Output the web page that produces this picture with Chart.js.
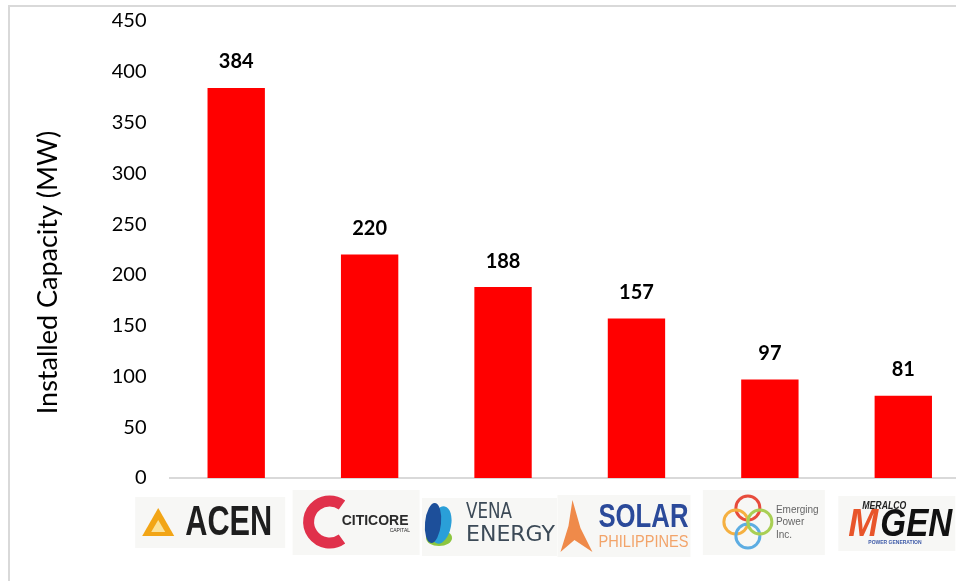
<!DOCTYPE html>
<html>
<head>
<meta charset="utf-8">
<script src="https://cdn.jsdelivr.net/npm/chart.js@4.4.1/dist/chart.umd.min.js"></script>
<style>
  html, body { margin: 0; padding: 0; background: #fff; overflow: hidden; }
  #box {
    position: absolute; left: 8px; top: 5px;
    width: 1000px; height: 620px;
    border: 2px solid #d9d9d9; background: #fff;
  }
  #wrap { position: absolute; left: 0; top: -13px; width: 975px; height: 589px; }
</style>
</head>
<body>
<div id="box"><div id="wrap"><canvas id="myChart"></canvas></div></div>
<script>
let companies = ["ACEN", "Citicore", "Vena Energy", "Solar Philippines", "Emerging Power Inc.", "Meralco MGEN"];
let capacityMW = [384, 220, 188, 157, 97, 81];
let yTicks = [0, 50, 100, 150, 200, 250, 300, 350, 400, 450];
let yTitle = "Installed Capacity (MW)";

const FONT = "Lato, 'Open Sans', sans-serif";

// bold numbers above each bar
const valueLabels = {
  id: "valueLabels",
  afterDatasetsDraw(chart) {
    let ctx = chart.ctx;
    let meta = chart.getDatasetMeta(0);
    ctx.save();
    ctx.font = "bold 20px " + FONT;
    ctx.fillStyle = "#000";
    ctx.textAlign = "center";
    ctx.textBaseline = "middle";
    meta.data.forEach((bar, i) => {
      ctx.fillText(capacityMW[i], bar.x, bar.y - 26);
    });
    ctx.restore();
  },
};

// axis title drawn by hand so it sits where the original does
const axisTitle = {
  id: "axisTitle",
  afterDraw(chart) {
    let ctx = chart.ctx;
    let area = chart.chartArea;
    ctx.save();
    ctx.translate(area.left - 121, (area.top + area.bottom) / 2 + 23);
    ctx.rotate(-Math.PI / 2);
    ctx.font = "27px " + FONT;
    ctx.fillStyle = "#000";
    ctx.textAlign = "center";
    ctx.textBaseline = "middle";
    ctx.fillText(yTitle, 0, 0);
    ctx.restore();
  },
};

function logoBox(ctx, cx, base, l, t, r, b) {
  ctx.fillStyle = "#f7f7f5";
  ctx.fillRect(cx + l, base + t, r - l, b - t);
}

function drawAcen(ctx, cx, base) {
  logoBox(ctx, cx, base, -101, 19, 49, 70);
  ctx.fillStyle = "#f2a516";
  ctx.beginPath();
  ctx.moveTo(cx - 78, base + 30);
  ctx.lineTo(cx - 62, base + 58);
  ctx.lineTo(cx - 94, base + 58);
  ctx.closePath();
  ctx.fill();
  ctx.fillStyle = "#fbe29a";
  ctx.beginPath();
  ctx.moveTo(cx - 78, base + 42);
  ctx.lineTo(cx - 71, base + 54);
  ctx.lineTo(cx - 85, base + 54);
  ctx.closePath();
  ctx.fill();
  ctx.fillStyle = "#1e1e1e";
  ctx.font = "bold 42px 'Liberation Sans', sans-serif";
  ctx.textAlign = "left";
  ctx.textBaseline = "middle";
  ctx.fillText("ACEN", cx - 51, base + 45, 87);
}

function drawCiticore(ctx, cx, base) {
  logoBox(ctx, cx, base, -77, 12, 50, 77);
  ctx.strokeStyle = "#e0314b";
  ctx.lineWidth = 11;
  ctx.beginPath();
  ctx.arc(cx - 40, base + 44, 21, 0.3 * Math.PI, 1.7 * Math.PI);
  ctx.stroke();
  ctx.fillStyle = "#2b2b2b";
  ctx.font = "bold 14px 'Liberation Sans', sans-serif";
  ctx.textAlign = "left";
  ctx.textBaseline = "middle";
  ctx.fillText("CITICORE", cx - 28, base + 43, 68);
  ctx.font = "5px 'Liberation Sans', sans-serif";
  ctx.fillText("CAPITAL", cx + 20, base + 53);
}

function drawVena(ctx, cx, base) {
  logoBox(ctx, cx, base, -81, 20, 54, 78);
  ctx.fillStyle = "#8cc63f";
  ctx.beginPath();
  ctx.ellipse(cx - 64, base + 60, 13, 8, 0, 0, 2 * Math.PI);
  ctx.fill();
  ctx.fillStyle = "#2a9fd8";
  ctx.beginPath();
  ctx.ellipse(cx - 62, base + 47, 10, 19, 0.2, 0, 2 * Math.PI);
  ctx.fill();
  ctx.fillStyle = "#1d4f9a";
  ctx.beginPath();
  ctx.ellipse(cx - 70, base + 45, 8, 20, 0.1, 0, 2 * Math.PI);
  ctx.fill();
  ctx.fillStyle = "#3c4a57";
  ctx.font = "22px 'DejaVu Sans', sans-serif";
  ctx.textAlign = "left";
  ctx.textBaseline = "middle";
  ctx.fillText("VENA", cx - 37, base + 34, 46);
  ctx.fillText("ENERGY", cx - 37, base + 57, 89);
}

function drawSolar(ctx, cx, base) {
  logoBox(ctx, cx, base, -79, 17, 54, 79);
  ctx.fillStyle = "#ef8a4a";
  ctx.beginPath();
  ctx.moveTo(cx - 64, base + 22);
  ctx.lineTo(cx - 56, base + 50);
  ctx.lineTo(cx - 44, base + 74);
  ctx.lineTo(cx - 62, base + 62);
  ctx.lineTo(cx - 76, base + 74);
  ctx.lineTo(cx - 68, base + 48);
  ctx.closePath();
  ctx.fill();
  ctx.fillStyle = "#2b4a9a";
  ctx.font = "bold 34px 'Liberation Sans', sans-serif";
  ctx.textAlign = "left";
  ctx.textBaseline = "middle";
  ctx.fillText("SOLAR", cx - 38, base + 40, 90);
  ctx.fillStyle = "#f2a46a";
  ctx.font = "17px 'Liberation Sans', sans-serif";
  ctx.fillText("PHILIPPINES", cx - 38, base + 64, 90);
}

function drawEmerging(ctx, cx, base) {
  logoBox(ctx, cx, base, -67, 12, 55, 77);
  let rings = [
    [-22, 30, "#e74c3c"],
    [-34, 44, "#f5b041"],
    [-22, 58, "#5dade2"],
    [-10, 44, "#a9cf54"],
  ];
  ctx.lineWidth = 3;
  rings.forEach((r) => {
    ctx.strokeStyle = r[2];
    ctx.beginPath();
    ctx.arc(cx + r[0], base + r[1], 12, 0, 2 * Math.PI);
    ctx.stroke();
  });
  ctx.fillStyle = "#666";
  ctx.font = "10px 'Liberation Sans', sans-serif";
  ctx.textAlign = "left";
  ctx.textBaseline = "middle";
  ctx.fillText("Emerging", cx + 6, base + 32);
  ctx.fillText("Power", cx + 6, base + 44);
  ctx.fillText("Inc.", cx + 6, base + 57);
}

function drawMgen(ctx, cx, base) {
  logoBox(ctx, cx, base, -65, 18, 52, 73);
  ctx.textAlign = "left";
  ctx.textBaseline = "middle";
  ctx.fillStyle = "#222";
  ctx.font = "italic bold 10px 'Liberation Sans', sans-serif";
  ctx.fillText("MERALCO", cx - 41, base + 28, 44);
  ctx.fillStyle = "#e8552a";
  ctx.font = "italic bold 38px 'Liberation Sans', sans-serif";
  ctx.fillText("M", cx - 55, base + 48, 30);
  ctx.fillStyle = "#111";
  ctx.fillText("GEN", cx - 23, base + 48, 72);
  ctx.fillStyle = "#3d5aa8";
  ctx.font = "bold 5px 'Liberation Sans', sans-serif";
  ctx.fillText("POWER GENERATION", cx - 35, base + 65, 70);
}

let logoPainters = [drawAcen, drawCiticore, drawVena, drawSolar, drawEmerging, drawMgen];

// company logos under the axis, placed through the x scale
const logoLabels = {
  id: "logoLabels",
  afterDraw(chart) {
    let ctx = chart.ctx;
    let xScale = chart.scales.x;
    let base = chart.chartArea.bottom;
    companies.forEach((c, i) => {
      ctx.save();
      logoPainters[i](ctx, xScale.getPixelForValue(i), base);
      ctx.restore();
    });
  },
};

function loadChart() {
  const ctx = document.getElementById("myChart");

  new Chart(ctx, {
    type: "bar",
    data: {
      labels: companies,
      datasets: [
        {
          data: capacityMW,
          backgroundColor: "#ff0000",
          borderWidth: 0,
          categoryPercentage: 1,
          barPercentage: 0.43,
        },
      ],
    },
    options: {
      responsive: true,
      maintainAspectRatio: false,
      animation: false,
      layout: {
        padding: { top: 0, right: 15, left: 0, bottom: 0 },
      },
      scales: {
        x: {
          grid: { display: false },
          border: { color: "#d9d9d9", width: 2 },
          ticks: { display: false },
          afterFit(scale) {
            scale.height = 105;
          },
        },
        y: {
          min: 0,
          max: 450,
          afterBuildTicks(scale) {
            scale.ticks = yTicks.map((v) => ({ value: v }));
          },
          grid: { display: false },
          border: { display: false },
          ticks: {
            padding: 15,
            color: "#000",
            font: { family: FONT, size: 20 },
          },
          afterFit(scale) {
            scale.width = 159.5;
          },
        },
      },
      plugins: {
        legend: { display: false },
        tooltip: { enabled: false },
      },
    },
    plugins: [valueLabels, axisTitle, logoLabels],
  });
}

loadChart();
</script>
</body>
</html>
